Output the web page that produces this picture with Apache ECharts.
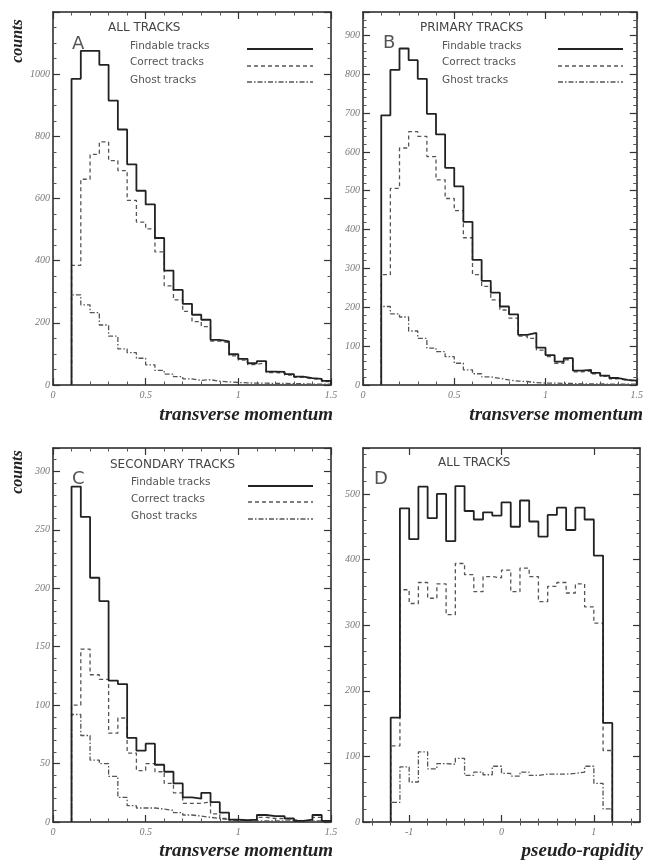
<!DOCTYPE html>
<html><head><meta charset="utf-8">
<script src="https://cdn.jsdelivr.net/npm/echarts@6/dist/echarts.min.js"></script>
<style>html,body{margin:0;padding:0;background:#fff}#c{width:646px;height:862px}</style>
</head><body><div id="c"></div>
<script>
// ---- bins ----
const ptStart = 0.10, ptWidth = 0.05;     // transverse momentum bins (28 bins, 0.10 - 1.50)
const etaStart = -1.2, etaWidth = 0.1;    // pseudo-rapidity bins (24 bins, -1.2 - 1.2)

// ---- A: all tracks vs pT ----
const allFindable = [985,1075,1075,1030,915,822,710,625,581,473,368,306,261,226,210,145,140,99,84,70,77,43,42,35,27,22,20,13];
const allCorrect  = [385,662,742,782,722,690,594,524,502,428,319,274,237,204,188,141,136,94,80,66,72,40,39,32,25,20,18,11];
const allGhost    = [290,258,233,193,157,116,104,86,65,47,35,27,20,15,17,12,10,8,7,6,6,5,5,4,4,3,3,3];

// ---- B: primary tracks vs pT ----
const primFindable = [694,811,866,836,788,698,645,559,511,420,322,268,238,202,182,129,134,96,77,60,69,37,39,31,24,18,13,11];
const primCorrect  = [284,506,610,652,640,588,528,480,449,379,284,254,219,193,172,126,120,90,73,56,65,34,36,29,22,16,12,10];
const primGhost    = [202,183,175,139,120,95,86,73,56,39,29,21,17,13,10,9,6,5,5,4,4,3,3,3,2,2,2,2];

// ---- C: secondary tracks vs pT ----
const secFindable = [287,261,209,189,121,118,72,61,67,49,43,33,21,20,25,17,8,2,1.5,2,6,5,5,3,1,2,6,1];
const secCorrect  = [100,148,126,122,76,89,59,44,50,43,33,25,16,16,17,7,3,1,1,1,4,3,3,2,1,1,4,1];
const secGhost    = [92,74,53,50,39,21,14,12,12,11,10,8,6,5,4,3,2,1,1,1,1,1,1,1,0,1,1,0];

// ---- D: all tracks vs pseudo-rapidity ----
const etaFindable = [159,478,431,511,463,500,428,512,474,461,472,467,487,450,490,458,435,468,479,445,479,461,406,151];
const etaCorrect  = [116,354,333,365,341,363,316,394,377,351,374,372,384,351,387,374,336,359,365,349,363,328,303,109];
const etaGhost    = [30,84,61,107,81,89,88,97,71,76,72,85,74,70,76,71,73,73,73,74,76,85,59,20];

// ---- tick labels / titles ----
const etaMajorTicks = [-1, 0, 1];
const etaMinorTicks = [-1.4,-1.2,-0.8,-0.6,-0.4,-0.2,0.2,0.4,0.6,0.8,1.2,1.4];
const panelTitles = ['ALL TRACKS','PRIMARY TRACKS','SECONDARY TRACKS','ALL TRACKS'];
const panelLetters = ['A','B','C','D'];
const legendNames = ['Findable tracks','Correct tracks','Ghost tracks'];

function hist(start, width, vals){
  const pts = [[start, 0]];
  vals.forEach((v,i)=>pts.push([+(start + i*width).toFixed(4), v]));
  const end = +(start + vals.length*width).toFixed(4);
  pts.push([end, vals[vals.length-1]]);
  pts.push([end, 0]);
  return pts;
}

const grids = [
  {left:53,  top:12,  width:278, height:373},
  {left:363, top:12,  width:277, height:373},
  {left:53,  top:448, width:278, height:374},
  {left:363, top:448, width:277, height:374}
];

const tickFont = {fontFamily:'"Liberation Serif"', fontStyle:'italic', fontSize:10, color:'#777'};
const fmt = v => String(v);
const frameLine = {show:true, onZero:false, lineStyle:{color:'#222', width:1.5}};
const majTick = {show:true, inside:true, length:7, lineStyle:{color:'#333', width:1.2}};
const minTick = (n)=>({show:true, splitNumber:n, length:3.5, lineStyle:{color:'#555', width:1}});

const xAxes = [], yAxes = [];
function addX(cfg){ xAxes.push(Object.assign({type:'value', splitLine:{show:false}, minorSplitLine:{show:false}}, cfg)); return xAxes.length-1; }
function addY(cfg){ yAxes.push(Object.assign({type:'value', splitLine:{show:false}, minorSplitLine:{show:false}}, cfg)); return yAxes.length-1; }

const yCfg = [
  {max:1200, interval:200, minor:4},
  {max:960,  interval:100, minor:5},
  {max:320,  interval:50,  minor:5},
  {max:570,  interval:100, minor:5}
];

const panelIdx = [];
for (let g=0; g<4; g++){
  let xb;
  if (g<3){
    xb = addX({gridIndex:g, position:'bottom', min:0, max:1.5, interval:0.5,
      axisLine:frameLine, axisTick:majTick, minorTick:minTick(5),
      axisLabel:Object.assign({show:true, margin:5, formatter:fmt}, tickFont)});
    addX({gridIndex:g, position:'top', min:0, max:1.5, interval:0.5,
      axisLine:frameLine, axisTick:majTick, minorTick:minTick(5), axisLabel:{show:false}});
  } else {
    xb = addX({gridIndex:g, position:'bottom', min:-1.5, max:1.5,
      axisLine:frameLine, axisTick:Object.assign({customValues:etaMajorTicks}, majTick),
      minorTick:{show:false},
      axisLabel:Object.assign({show:true, margin:5, customValues:etaMajorTicks, formatter:fmt}, tickFont)});
    addX({gridIndex:g, position:'bottom', min:-1.5, max:1.5, axisLine:{show:false},
      axisTick:{show:true, inside:true, length:3.5, customValues:etaMinorTicks, lineStyle:{color:'#555', width:1}},
      axisLabel:{show:false}});
    addX({gridIndex:g, position:'top', min:-1.5, max:1.5,
      axisLine:frameLine, axisTick:Object.assign({customValues:etaMajorTicks}, majTick), axisLabel:{show:false}});
    addX({gridIndex:g, position:'top', min:-1.5, max:1.5, axisLine:{show:false},
      axisTick:{show:true, inside:true, length:3.5, customValues:etaMinorTicks, lineStyle:{color:'#555', width:1}},
      axisLabel:{show:false}});
  }
  const c = yCfg[g];
  const yl = addY({gridIndex:g, position:'left', min:0, max:c.max, interval:c.interval,
    axisLine:frameLine, axisTick:majTick, minorTick:minTick(c.minor),
    axisLabel:Object.assign({show:true, margin:3, showMaxLabel:false, formatter:fmt}, tickFont)});
  addY({gridIndex:g, position:'right', min:0, max:c.max, interval:c.interval,
    axisLine:frameLine, axisTick:majTick, minorTick:minTick(c.minor), axisLabel:{show:false}});
  panelIdx.push({x:xb, y:yl});
}

const panelData = [
  [ptStart, ptWidth, allFindable, allCorrect, allGhost],
  [ptStart, ptWidth, primFindable, primCorrect, primGhost],
  [ptStart, ptWidth, secFindable, secCorrect, secGhost],
  [etaStart, etaWidth, etaFindable, etaCorrect, etaGhost]
];
const styles = [
  {color:'#222', width:1.8, type:'solid'},
  {color:'#555', width:1.3, type:[4,3]},
  {color:'#555', width:1.3, type:[5,2,1.5,2]}
];
const series = [];
panelData.forEach((p,g)=>{
  [p[2],p[3],p[4]].forEach((vals,k)=>{
    series.push({type:'line', name:legendNames[k], xAxisIndex:panelIdx[g].x, yAxisIndex:panelIdx[g].y,
      step:'end', symbol:'none', silent:true, z: 3-k,
      lineStyle:{color:styles[k].color, width:styles[k].width, type:styles[k].type},
      data:hist(p[0], p[1], vals)});
  });
});

// ---- text / legend decorations ----
const graphic = [];
const titleFont = '12px "DejaVu Sans"';
const legFont = '10.5px "DejaVu Sans"';
const letterFont = '18px "DejaVu Sans"';
const axTitleFont = 'italic bold 19px "Liberation Serif"';
function txt(text, x, y, font, fill, align, rot){
  graphic.push({type:'text', x:x, y:y, rotation:rot||0, silent:true,
    style:{text:text, font:font, fill:fill, align:align||'left', verticalAlign:'middle'}});
}
function seg(x1,y1,x2,y2,k){
  graphic.push({type:'line', silent:true, shape:{x1:x1,y1:y1,x2:x2,y2:y2},
    style:{stroke:styles[k].color, lineWidth:styles[k].width, lineDash:(k===0?null:styles[k].type)}});
}
// panel titles & letters
txt(panelTitles[0], 108, 28, titleFont, '#444');
txt(panelTitles[1], 420, 28, titleFont, '#444');
txt(panelTitles[2], 110, 465, titleFont, '#444');
txt(panelTitles[3], 438, 463, titleFont, '#444');
txt(panelLetters[0], 72, 44, letterFont, '#555');
txt(panelLetters[1], 383, 43, letterFont, '#555');
txt(panelLetters[2], 72, 479, letterFont, '#555');
txt(panelLetters[3], 374, 479, letterFont, '#555');
// legends in A, B, C
const legPos = [
  {tx:130, ty:[46,62,80], lx1:247, lx2:313, ly:[49,66,82]},
  {tx:442, ty:[46,62,80], lx1:558, lx2:623, ly:[49,66,82]},
  {tx:131, ty:[482,499,516], lx1:248, lx2:313, ly:[486,502,519]}
];
legPos.forEach(L=>{
  for (let k=0;k<3;k++){
    txt(legendNames[k], L.tx, L.ty[k], legFont, '#555');
    seg(L.lx1, L.ly[k], L.lx2, L.ly[k], k);
  }
});
// axis titles
txt('counts', 18, 41, 'italic bold 16px "Liberation Serif"', '#222', 'center', Math.PI/2);
txt('counts', 18, 472, 'italic bold 16px "Liberation Serif"', '#222', 'center', Math.PI/2);
txt('transverse momentum', 333, 415, axTitleFont, '#222', 'right');
txt('transverse momentum', 643, 415, axTitleFont, '#222', 'right');
txt('transverse momentum', 333, 851, axTitleFont, '#222', 'right');
txt('pseudo-rapidity', 643, 851, axTitleFont, '#222', 'right');

const chart = echarts.init(document.getElementById('c'), null, {renderer:'canvas'});
chart.setOption({
  backgroundColor:'#fff',
  animation:false,
  grid:grids,
  xAxis:xAxes,
  yAxis:yAxes,
  series:series,
  graphic:graphic
});
</script>
</body></html>
